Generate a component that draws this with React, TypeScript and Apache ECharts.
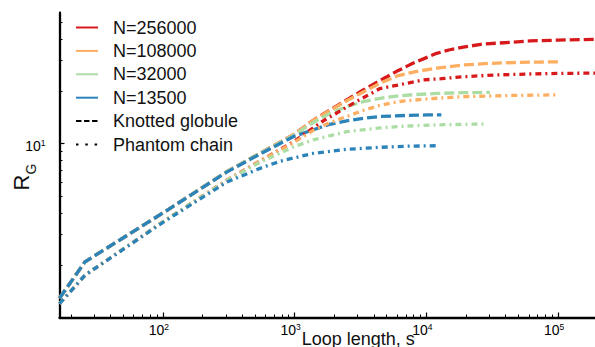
import React, { useEffect, useRef } from 'react';
import * as echarts from 'echarts';

// Axis ranges
const X_MIN = 16.4;
const X_MAX = 200000;
const Y_MIN = 1;
const Y_MAX = 56.5;

// Tick values
const xMajorTicks = [100, 1000, 10000, 100000];
const xMinorTicks = [20, 30, 40, 50, 60, 70, 80, 90, 200, 300, 400, 500, 600, 700, 800, 900,
  2000, 3000, 4000, 5000, 6000, 7000, 8000, 9000, 20000, 30000, 40000, 50000, 60000, 70000, 80000, 90000];
const yMajorTicks = [10];
const yMinorTicks = [2, 3, 4, 5, 6, 7, 8, 9, 20, 30, 40, 50];

// Legend / categories
const nLabels = ['N=256000', 'N=108000', 'N=32000', 'N=13500'];
const nColors = ['#d7191c', '#fdae61', '#abdda4', '#2b83ba'];
const styleLabels = ['Knotted globule', 'Phantom chain'];

// Knotted globule (dashed)
const sKnot256 = [16.4, 25.6, 100, 305, 546, 975, 1384, 1854, 2483, 3320, 4446, 5955, 7965, 11980, 15100, 19060, 26000, 45700, 61200, 100000, 190000, 256000];
const rKnot256 = [1.29, 2.09, 3.99, 6.89, 8.79, 11.2, 13.6, 15.6, 17.8, 20.3, 23.0, 26.0, 29.0, 33.0, 34.6, 35.8, 37.2, 38.3, 38.9, 39.3, 39.7, 39.8];

const sKnot108 = [16.4, 25.6, 100, 305, 546, 975, 1384, 1854, 2483, 3320, 4446, 6130, 8500, 11980, 19060, 30400, 45700, 70000, 103000];
const rKnot108 = [1.29, 2.09, 3.99, 6.89, 8.79, 11.2, 13.6, 15.5, 17.6, 19.8, 22.2, 24.6, 26.0, 27.1, 28.3, 28.9, 29.2, 29.4, 29.5];

const sKnot32 = [16.4, 25.6, 100, 305, 546, 975, 1384, 1854, 2483, 3320, 4446, 5955, 8000, 11980, 19060, 30400];
const rKnot32 = [1.29, 2.09, 3.99, 6.89, 8.79, 11.1, 13.2, 14.9, 16.3, 17.4, 18.2, 18.75, 19.1, 19.4, 19.6, 19.7];

const sKnot13 = [16.4, 25.6, 100, 305, 546, 975, 1384, 1854, 2483, 3320, 4446, 7000, 10000, 13000];
const rKnot13 = [1.29, 2.09, 3.99, 6.85, 8.7, 10.95, 12.0, 12.9, 13.5, 13.95, 14.3, 14.5, 14.6, 14.6];

// Phantom chain (dash-dot)
const sPh256 = [16.4, 25.6, 100, 305, 546, 975, 1648, 2970, 4446, 6500, 9490, 13000, 19060, 34180, 61200, 100000, 190000, 256000];
const rPh256 = [1.2, 1.75, 3.55, 6.15, 7.95, 10.2, 13.5, 17.5, 20.7, 21.9, 23.2, 23.6, 24.2, 24.8, 25.1, 25.3, 25.4, 25.4];

const sPh108 = [16.4, 25.6, 100, 305, 546, 975, 1384, 1854, 2483, 3320, 4446, 6500, 10640, 19060, 45700, 100000];
const rPh108 = [1.2, 1.75, 3.55, 6.15, 7.95, 10.1, 11.9, 13.2, 14.3, 15.5, 16.6, 17.5, 18.1, 18.6, 18.9, 19.05];

const sPh32 = [16.4, 25.6, 100, 305, 546, 975, 1384, 2483, 4446, 7000, 11980, 20000, 29000];
const rPh32 = [1.2, 1.75, 3.55, 6.12, 7.8, 9.55, 10.5, 11.7, 12.3, 12.6, 12.8, 12.9, 12.95];

const sPh13 = [16.4, 25.6, 100, 305, 546, 773, 975, 1384, 2483, 4446, 7000, 12000];
const rPh13 = [1.2, 1.75, 3.52, 6.0, 7.2, 7.9, 8.25, 8.78, 9.26, 9.51, 9.65, 9.71];

const knotS = [sKnot256, sKnot108, sKnot32, sKnot13];
const knotR = [rKnot256, rKnot108, rKnot32, rKnot13];
const phS = [sPh256, sPh108, sPh32, sPh13];
const phR = [rPh256, rPh108, rPh32, rPh13];

const FONT = 'Liberation Sans, Arial, Helvetica, sans-serif';

const zip = (a: number[], b: number[]) => a.map((v, i) => [v, b[i]]);

export default function App() {
  const ref = useRef<HTMLDivElement>(null);
  useEffect(() => {
    if (!ref.current) return;
    const chart = echarts.init(ref.current, undefined, { renderer: 'svg' });
    const series: any[] = [];
    // legend entries
    nLabels.forEach((n, i) => {
      series.push({
        type: 'line', name: n, data: [], symbol: 'none',
        itemStyle: { color: nColors[i] },
        lineStyle: { color: nColors[i], width: 3.5 },
      });
    });
    series.push({
      type: 'line', name: styleLabels[0], data: [], symbol: 'none',
      itemStyle: { color: '#000' },
      lineStyle: { color: '#000', width: 2.5, type: [5.5, 2.5] },
    });
    series.push({
      type: 'line', name: styleLabels[1], data: [], symbol: 'none',
      itemStyle: { color: '#000' },
      lineStyle: { color: '#000', width: 2.5, type: [2.5, 6.8] },
    });
    // knotted (dashed)
    knotS.forEach((s, i) => {
      series.push({
        type: 'line', name: nLabels[i] + ' knotted', data: zip(s, knotR[i]),
        symbol: 'none', showSymbol: false, smooth: false,
        lineStyle: { color: nColors[i], width: 3.3, type: [10, 4] },
        itemStyle: { color: nColors[i] },
      });
    });
    // phantom (dash-dot)
    phS.forEach((s, i) => {
      series.push({
        type: 'line', name: nLabels[i] + ' phantom', data: zip(s, phR[i]),
        symbol: 'none', showSymbol: false, smooth: false,
        lineStyle: { color: nColors[i], width: 3.3, type: [6, 4, 2, 4] },
        itemStyle: { color: nColors[i] },
      });
    });

    const supLabel = (v: number) => `10{sup|${Math.round(Math.log10(v))}}`;

    chart.setOption({
      animation: false,
      backgroundColor: '#fff',
      grid: { left: 59.5, right: 2.3, top: 12.7, bottom: 29.5, containLabel: false, outerBoundsMode: 'none' },
      legend: {
        data: [...nLabels, ...styleLabels],
        orient: 'vertical',
        left: 70, top: 13.5,
        itemWidth: 22, itemHeight: 18, itemGap: 5.4,
        selectedMode: false,
        itemStyle: { color: 'rgba(0,0,0,0)', borderColor: 'rgba(0,0,0,0)', borderWidth: 0, opacity: 0 },
        textStyle: { fontSize: 18, fontFamily: FONT, color: '#111', padding: [0, 0, 0, 10] },
      },
      xAxis: [
        {
          type: 'log', min: X_MIN, max: X_MAX, position: 'bottom',
          axisLine: { show: true, onZero: false, lineStyle: { color: '#000', width: 2.3 } },
          axisTick: { show: true, inside: true, length: 5, customValues: xMajorTicks, lineStyle: { color: '#000', width: 1.2 } },
          axisLabel: {
            show: true, customValues: xMajorTicks, margin: 5, formatter: supLabel,
            fontSize: 14, fontFamily: FONT, color: '#000', padding: [0, 8, 0, 0],
            rich: { sup: { fontSize: 8.5, fontFamily: FONT, verticalAlign: 'top', color: '#000' } },
          },
          splitLine: { show: false }, minorTick: { show: false },
        },
        {
          type: 'log', min: X_MIN, max: X_MAX, position: 'bottom',
          axisLine: { show: false },
          axisTick: { show: true, inside: true, length: 3, customValues: xMinorTicks, lineStyle: { color: '#000', width: 1 } },
          axisLabel: { show: false },
          splitLine: { show: false },
        },
      ],
      yAxis: [
        {
          type: 'log', min: Y_MIN, max: Y_MAX, position: 'left',
          axisLine: { show: true, onZero: false, lineStyle: { color: '#000', width: 2.3 } },
          axisTick: { show: true, inside: true, length: 5, customValues: yMajorTicks, lineStyle: { color: '#000', width: 1.2 } },
          axisLabel: {
            show: true, customValues: yMajorTicks, margin: 14, formatter: supLabel,
            fontSize: 14, fontFamily: FONT, color: '#000', padding: [4, 0, 0, 0],
            rich: { sup: { fontSize: 8.5, fontFamily: FONT, verticalAlign: 'top', color: '#000' } },
          },
          splitLine: { show: false },
        },
        {
          type: 'log', min: Y_MIN, max: Y_MAX, position: 'left',
          axisLine: { show: false },
          axisTick: { show: true, inside: true, length: 3, customValues: yMinorTicks, lineStyle: { color: '#000', width: 1 } },
          axisLabel: { show: false },
          splitLine: { show: false },
        },
      ],
      graphic: [
        {
          type: 'text', x: 301.7, y: 330,
          style: { text: 'Loop length, s', fontSize: 18, fontFamily: FONT, fill: '#111', align: 'left', verticalAlign: 'top' },
        },
        {
          type: 'text', x: 21, y: 182.5, rotation: Math.PI / 2,
          style: { text: 'R', fontSize: 22, fontFamily: FONT, fill: '#111', align: 'center', verticalAlign: 'middle' },
        },
        {
          type: 'text', x: 31, y: 169, rotation: Math.PI / 2,
          style: { text: 'G', fontSize: 14, fontFamily: FONT, fill: '#111', align: 'center', verticalAlign: 'middle' },
        },
      ],
      series,
    });
    return () => chart.dispose();
  }, []);
  return (
    <div style={{ position: 'fixed', left: 0, top: 0, width: 595, height: 347, overflow: 'hidden', background: '#fff' }}>
      <div ref={ref} style={{ width: 600, height: 347 }} />
    </div>
  );
}
